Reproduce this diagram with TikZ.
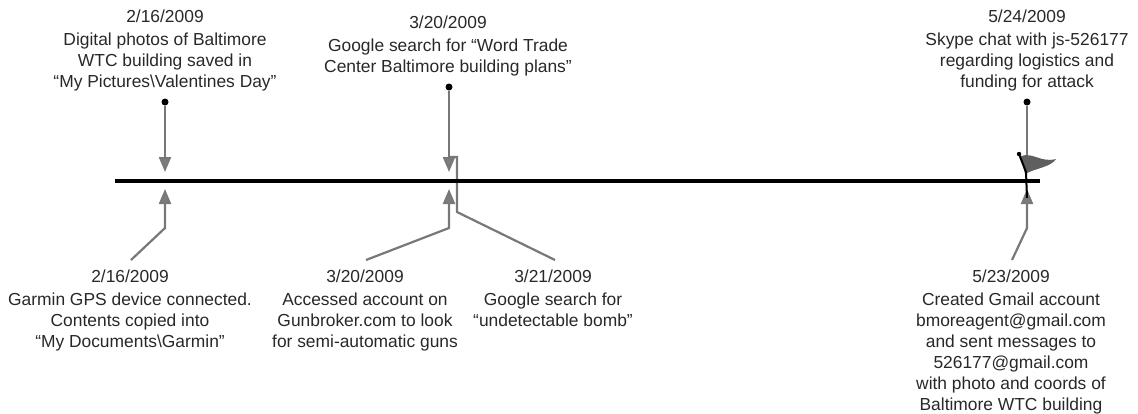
\documentclass[tikz,border=0pt]{standalone}
\usepackage{fontspec}
\setmainfont{Liberation Sans}
\usepackage{xcolor}
\usetikzlibrary{arrows.meta, positioning}
\definecolor{stemgray}{RGB}{120, 120, 120}
\definecolor{headgray}{RGB}{125, 125, 125}
\definecolor{flaggray}{RGB}{95, 95, 95}
\definecolor{labeltext}{RGB}{40, 40, 40}

\begin{document}
\begin{tikzpicture}[
    x=1pt, y=-1pt,
    eventlabel/.style={
        anchor=north, align=center, inner sep=0pt, text=labeltext,
        font=\fontsize{17.4}{21}\selectfont
    },
    pindot/.style={circle, fill=black, inner sep=0pt, minimum size=7pt},
    stem/.style={draw=stemgray, line width=2.2pt, line join=miter},
    arrow/.style={stem, -{Triangle[length=15pt, width=12pt, fill=headgray]}}
]
    \useasboundingbox (0,0) rectangle (1138,413);

    % timeline
    \coordinate (linestart) at (115,181);
    \coordinate (lineend) at (1040,181);

    % labels above the line
    \node [eventlabel] (top1) at (165,9.5) {2/16/2009\\[2pt]
        Digital photos of Baltimore\\
        WTC building saved in\\
        “My Pictures\textbackslash Valentines Day”};
    \node [eventlabel] (top2) at (448,15.5) {3/20/2009\\[2pt]
        Google search for “Word Trade\\
        Center Baltimore building plans”};
    \node [eventlabel] (top3) at (1027,9.5) {5/24/2009\\[2pt]
        Skype chat with js-526177\\
        regarding logistics and\\
        funding for attack};

    % labels below the line
    \node [eventlabel] (low1) at (130,269.5) {2/16/2009\\[2pt]
        Garmin GPS device connected.\\
        Contents copied into\\
        “My Documents\textbackslash Garmin”};
    \node [eventlabel] (low2) at (365,269.5) {3/20/2009\\[2pt]
        Accessed account on\\
        Gunbroker.com to look\\
        for semi-automatic guns};
    \node [eventlabel] (low3) at (553,269.5) {3/21/2009\\[2pt]
        Google search for\\
        “undetectable bomb”};
    \node [eventlabel] (low4) at (1011,269.5) {5/23/2009\\[2pt]
        Created Gmail account\\
        bmoreagent@gmail.com\\
        and sent messages to\\
        526177@gmail.com\\
        with photo and coords of\\
        Baltimore WTC building};

    % pins above
    \node [pindot] (dot1) at (165,102) {};
    \node [pindot] (dot2) at (449,87) {};
    \node [pindot] (dot3) at (1027,102) {};
    \coordinate (tip1) at (165,172);
    \coordinate (tip2) at (449,172);
    \coordinate (tip3) at (1027,172);

    % arrows from below
    \coordinate (end1) at (131,260);
    \coordinate (bend1) at (165,228);
    \coordinate (up1) at (165,189);
    \coordinate (end2) at (366,260);
    \coordinate (bend2) at (449,228);
    \coordinate (up2) at (449,189);
    \coordinate (end4) at (1012,260);
    \coordinate (bend4) at (1027,228);
    \coordinate (up4) at (1027,189);

    % the 3/21 leader
    \coordinate (end3) at (555,260);
    \coordinate (bend3) at (457,212);
    \coordinate (corner3) at (457,157);
    \coordinate (start3) at (449,157);

    \draw [stem] (end3) -- (bend3) -- (corner3) -- (start3);
    \draw [arrow] (dot1) -- (tip1);
    \draw [arrow] (dot2) -- (tip2);
    \draw [arrow] (dot3) -- (tip3);
    \draw [arrow] (end1) -- (bend1) -- (up1);
    \draw [arrow] (end2) -- (bend2) -- (up2);
    \draw [arrow] (end4) -- (bend4) -- (up4);

    \draw [line width=4.5pt] (linestart) -- (lineend);

    % flag
    \fill [flaggray] (1021,156) .. controls (1033,152) and (1041,163) .. (1056,159)
        .. controls (1051,167) and (1036,168) .. (1025,174) -- cycle;
    \draw [line width=2pt] (1019,154) -- (1026,172) -- (1027,198);
    \fill (1019,154) circle (2.2pt);
\end{tikzpicture}
\end{document}
